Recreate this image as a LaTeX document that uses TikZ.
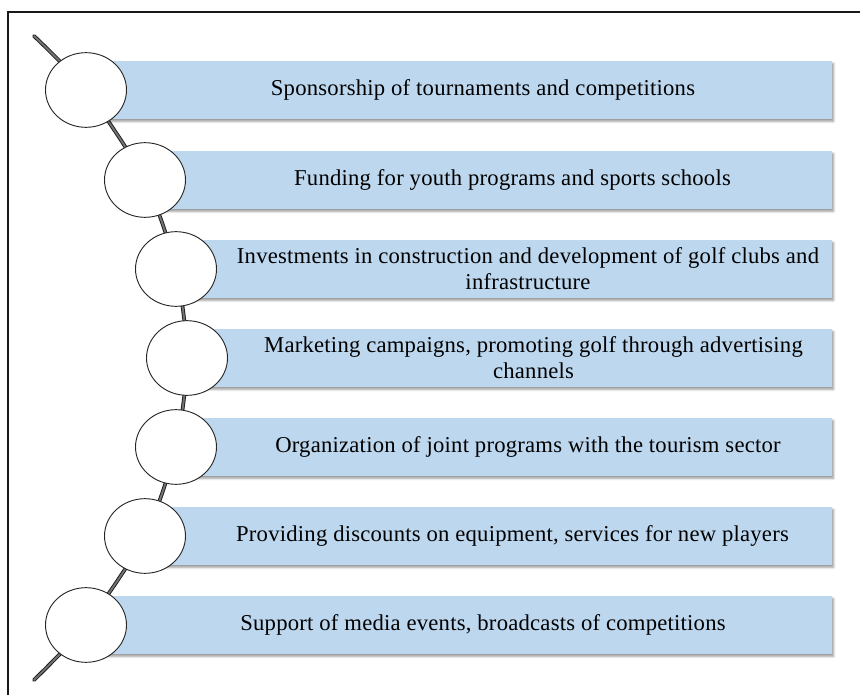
\documentclass[tikz,border=0pt]{standalone}
\usepackage{fontspec}
\setmainfont{Liberation Serif}[LetterSpace=1]
\usetikzlibrary{shadows.blur,shapes.geometric}
\definecolor{bandblue}{RGB}{189,215,238}
\definecolor{ropedark}{RGB}{30,30,30}
\begin{document}
\begin{tikzpicture}[x=0.75pt,y=-0.75pt,
  band/.style={fill=bandblue, draw=none, minimum height=43.5pt, inner sep=0pt,
    blur shadow={shadow xshift=1.2pt, shadow yshift=-1.8pt, shadow blur radius=1.6pt, shadow opacity=40}},
  bandtext/.style={align=center, inner sep=0pt,
    font=\fontsize{17}{19.5}\selectfont},
  bead/.style={ellipse, draw=black!85, line width=0.7pt, fill=white,
    minimum width=60.75pt, minimum height=56pt, inner sep=0pt},
  rope/.style={draw=ropedark, line width=0.7pt, double=black!55, double distance=1.4pt,
    line cap=round}]
\useasboundingbox (0,0) rectangle (860,695);
% frame
\draw[line width=0.8pt, black!90] (8,695) -- (8,12) -- (860,12);
% rope through the bead centres
\coordinate (ropeA) at (34,36);
\coordinate (ropeB) at (34,680);
\draw[rope] plot[smooth, tension=0.45] coordinates
  {(34,36) (86,90) (145,180) (176,269) (187,358) (176,447) (145,536) (86,625) (34,680)};
% bands, labels and beads
\foreach \i/\cx/\cy/\txt in {
  1/86/90/{Sponsorship of tournaments and competitions},
  2/145/180/{Funding for youth programs and sports schools},
  3/176/269/{Investments in construction and development of golf clubs and\\infrastructure},
  4/187/358/{Marketing campaigns, promoting golf through advertising\\channels},
  5/176/447/{Organization of joint programs with the tourism sector},
  6/145/536/{Providing discounts on equipment, services for new players},
  7/86/625/{Support of media events, broadcasts of competitions}} {
  \node[band, minimum width={(832-\cx)*0.75pt}] (band\i) at ({(832+\cx)/2},\cy) {};
  \node[bandtext] (label\i) at ({(832+\cx+40)/2+4},\cy) {\txt};
}
\foreach \i/\cx/\cy in {1/86/90,2/145/180,3/176/269,4/187/358,5/176/447,6/145/536,7/86/625}
  \node[bead] (bead\i) at (\cx,\cy) {};
\end{tikzpicture}
\end{document}
